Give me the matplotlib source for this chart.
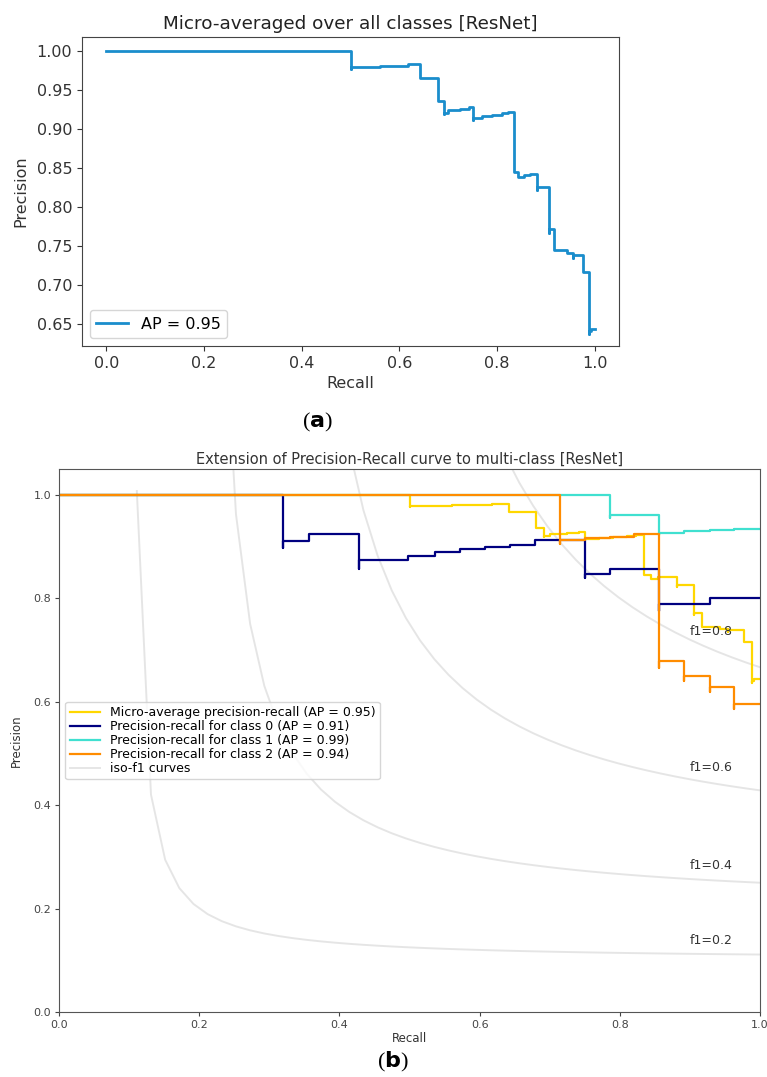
import numpy as np
import matplotlib
matplotlib.use("Agg")
import matplotlib.pyplot as plt

# ---- data; repeated recall values mark the short
# downward overshoots visible at each drop ----
micro_recall = [0.0, 0.5, 0.5, 0.56, 0.618, 0.642, 0.68, 0.692, 0.692, 0.70, 0.725, 0.742,
                0.751, 0.751, 0.77, 0.79, 0.81, 0.823, 0.834, 0.844, 0.855, 0.868,
                0.882, 0.882, 0.906, 0.906, 0.917, 0.943, 0.955, 0.955, 0.977, 0.988,
                0.988, 0.992, 1.0]
micro_precision = [1.0, 0.977, 0.979, 0.981, 0.983, 0.966, 0.936, 0.919, 0.921, 0.924,
                   0.926, 0.928, 0.912, 0.914, 0.916, 0.918, 0.920, 0.922, 0.845, 0.838,
                   0.841, 0.842, 0.822, 0.826, 0.767, 0.771, 0.745, 0.741, 0.734, 0.738,
                   0.716, 0.637, 0.641, 0.643, 0.643]

class0_recall = [0.0, 0.32, 0.32, 0.356, 0.428, 0.428, 0.498, 0.536, 0.572, 0.608, 0.643,
                 0.679, 0.75, 0.75, 0.786, 0.856, 0.856, 0.928, 1.0]
class0_precision = [1.0, 0.898, 0.910, 0.924, 0.856, 0.874, 0.882, 0.889, 0.895, 0.900,
                    0.904, 0.913, 0.840, 0.847, 0.857, 0.775, 0.789, 0.801, 0.801]

class1_recall = [0.0, 0.786, 0.786, 0.856, 0.856, 0.891, 0.928, 0.963, 1.0]
class1_precision = [1.0, 0.955, 0.961, 0.923, 0.927, 0.930, 0.932, 0.934, 0.934]

class2_recall = [0.0, 0.715, 0.715, 0.75, 0.786, 0.82, 0.856, 0.856, 0.892, 0.892,
                 0.928, 0.928, 0.963, 0.963, 1.0]
class2_precision = [1.0, 0.905, 0.913, 0.916, 0.919, 0.924, 0.666, 0.678, 0.640, 0.650,
                    0.618, 0.629, 0.585, 0.596, 0.596]

ap_micro = 0.95
ap_classes = [0.91, 0.99, 0.94]
f_scores = [0.2, 0.4, 0.6, 0.8]

plt.rcParams['font.family'] = ['DejaVu Sans']

fig = plt.figure(figsize=(7.67, 10.77), dpi=100)
W, H = 767.0, 1077.0

# ---------------- panel (a) ----------------
ax1 = fig.add_axes([82 / W, 1 - 346 / H, (619 - 82) / W, (346 - 37) / H])
ax1.step(micro_recall, micro_precision, where='post', color='#1a8dcc', lw=2.0,
         label='AP = {:.2f}'.format(ap_micro))
ax1.set_xlim(-0.05, 1.05)
ax1.set_ylim(0.6215, 1.018)
ax1.set_xticks([0.0, 0.2, 0.4, 0.6, 0.8, 1.0])
ax1.set_yticks([0.65, 0.70, 0.75, 0.80, 0.85, 0.90, 0.95, 1.00])
ax1.tick_params(labelsize=11.5, colors='#333333')
ax1.set_xlabel('Recall', fontsize=11.5, color='#333333')
ax1.set_ylabel('Precision', fontsize=11.5, color='#333333', labelpad=6)
ax1.set_title('Micro-averaged over all classes [ResNet]', fontsize=13.2, color='#222222')
for s in ax1.spines.values():
    s.set_color('#444444')
ax1.legend(loc='lower left', fontsize=11.5)

fig.text(317 / W, 1 - 422 / H, r'($\mathbf{a}$)', ha='center', va='center',
         fontsize=16, family='Liberation Serif')

# ---------------- panel (b) ----------------
ax2 = fig.add_axes([59 / W, 1 - 1012 / H, (760 - 59) / W, (1012 - 469) / H])
iso_line = None
for f in f_scores:
    x = np.linspace(0.01, 1)
    y = f * x / (2 * x - f)
    iso_line, = ax2.plot(x[y >= 0], y[y >= 0], color='gray', alpha=0.2, lw=1.4)
    ax2.annotate('f1={0:0.1f}'.format(f), xy=(0.9, y[45] + 0.02), fontsize=9,
                 color='#333333')

l_micro, = ax2.step(micro_recall, micro_precision, where='post', color='gold', lw=1.6)
colors = ['navy', 'turquoise', 'darkorange']
recalls = [class0_recall, class1_recall, class2_recall]
precisions = [class0_precision, class1_precision, class2_precision]
class_lines = []
for r, p, c in zip(recalls, precisions, colors):
    l, = ax2.step(r, p, where='post', color=c, lw=1.6)
    class_lines.append(l)

ax2.set_xlim(0.0, 1.0)
ax2.set_ylim(0.0, 1.05)
ax2.tick_params(labelsize=8, colors='#444444', length=3, pad=2.5)
ax2.set_xlabel('Recall', fontsize=8.5, color='#333333', labelpad=2)
ax2.set_ylabel('Precision', fontsize=8.5, color='#333333', labelpad=8)
ax2.set_title('Extension of Precision-Recall curve to multi-class [ResNet]', fontsize=10.5,
              color='#333333', pad=4)
for s in ax2.spines.values():
    s.set_color('#555555')

handles = [l_micro] + class_lines + [iso_line]
labels = ['Micro-average precision-recall (AP = {:.2f})'.format(ap_micro)]
labels += ['Precision-recall for class {0} (AP = {1:.2f})'.format(i, a)
           for i, a in enumerate(ap_classes)]
labels += ['iso-f1 curves']
ax2.legend(handles, labels, loc='center left', fontsize=9, labelspacing=0.08,
           handlelength=2.4, borderaxespad=0.5, borderpad=0.35)

fig.text(393 / W, 1 - 1062 / H, r'($\mathbf{b}$)', ha='center', va='center',
         fontsize=16, family='Liberation Serif')

fig.savefig('out.png', dpi=100)
